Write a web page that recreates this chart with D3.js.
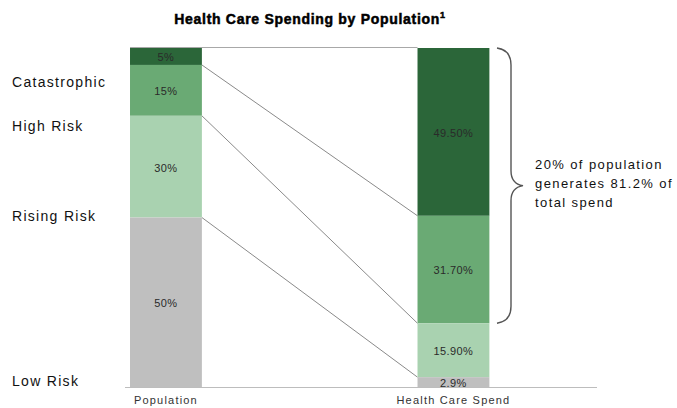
<!DOCTYPE html>
<html><head><meta charset="utf-8">
<script src="https://cdn.jsdelivr.net/npm/d3@7"></script>
<style>
html,body{margin:0;padding:0;background:#fff;}
svg{display:block;font-family:"Liberation Sans",Arial,sans-serif;}
</style></head>
<body>
<svg id="chart" width="677" height="408"></svg>
<script>
const categories = ["Catastrophic", "High Risk", "Rising Risk", "Low Risk"];
const barNames = ["Population", "Health Care Spend"];
const populationPct = [5, 15, 30, 50];
const spendPct = [49.5, 31.7, 15.9, 2.9];
const populationLabels = ["5%", "15%", "30%", "50%"];
const spendLabels = ["49.50%", "31.70%", "15.90%", "2.9%"];
const categoryLabelPos = [90, 77, 50.3, 1.8];
const braceText = ["20% of population", "generates 81.2% of", "total spend"];
const titleText = "Health Care Spending by Population";

const colors = ["#2b6639", "#6aaa74", "#a9d2b0", "#bfbfbf"];

const svg = d3.select("#chart");
const y = d3.scaleLinear().domain([0, 100]).range([387, 48]);
const x = d3.scaleBand().domain(barNames).range([22.2, 597.2]).paddingInner(0.75).paddingOuter(0.375);

function stackIt(vals) {
  let top = 100;
  return vals.map((v, i) => { const s = {i, v, y0: top, y1: top - v}; top -= v; return s; });
}
const popStack = stackIt(populationPct);
const spendStack = stackIt(spendPct);

// title
const title = svg.append("text").attr("x", 310).attr("y", 24).attr("text-anchor", "middle")
  .attr("font-size", 14).attr("font-weight", "bold").attr("fill", "#000")
  .attr("stroke", "#000").attr("stroke-width", 0.5).attr("letter-spacing", 0.7);
title.append("tspan").text(titleText);
title.append("tspan").attr("font-size", 9).attr("dy", -6).text("1");

// axis line
svg.append("line").attr("x1", 125).attr("x2", 597).attr("y1", y(0) + 0.5).attr("y2", y(0) + 0.5)
  .attr("stroke", "#bdbdbd").attr("stroke-width", 1);

// top line
svg.append("line").attr("x1", x("Population")).attr("x2", x("Health Care Spend"))
  .attr("y1", y(100) - 0.5).attr("y2", y(100) - 0.5)
  .attr("stroke", "#a8a8a8").attr("stroke-width", 1.2);

// connectors
const xL = x("Population") + x.bandwidth();
const xR = x("Health Care Spend");
for (let k = 0; k < 3; k++) {
  svg.append("line").attr("x1", xL).attr("y1", y(popStack[k].y1))
    .attr("x2", xR).attr("y2", y(spendStack[k].y1))
    .attr("stroke", "#8a8a8a").attr("stroke-width", 1);
}

function drawBar(name, stack, labels) {
  const g = svg.append("g");
  g.selectAll("rect").data(stack).join("rect")
    .attr("x", x(name)).attr("width", x.bandwidth())
    .attr("y", d => y(d.y0)).attr("height", d => y(d.y1) - y(d.y0))
    .attr("fill", d => colors[d.i]);
  g.selectAll("text").data(stack).join("text")
    .attr("x", x(name) + x.bandwidth() / 2)
    .attr("y", d => (y(d.y0) + y(d.y1)) / 2 + 1)
    .attr("dy", "0.35em").attr("text-anchor", "middle")
    .attr("font-size", 11).attr("fill", "#2a2a2a").attr("letter-spacing", 0.4)
    .text(d => labels[d.i]);
}
drawBar("Population", popStack, populationLabels);
drawBar("Health Care Spend", spendStack, spendLabels);

// category labels
svg.selectAll(".cat").data(categories).join("text").attr("class", "cat")
  .attr("x", 12).attr("y", (d, i) => y(categoryLabelPos[i])).attr("dy", "0.35em")
  .attr("font-size", 14).attr("fill", "#111").attr("letter-spacing", 1.3)
  .text(d => d);

// bottom labels
svg.selectAll(".bl").data(barNames).join("text").attr("class", "bl")
  .attr("x", d => x(d) + x.bandwidth() / 2).attr("y", 404).attr("text-anchor", "middle")
  .attr("font-size", 11).attr("fill", "#333").attr("letter-spacing", 1.2)
  .text(d => d);

// brace
const bTop = y(100), bBot = y(100 - spendPct[0] - spendPct[1]);
const bMid = (bTop + bBot) / 2;
const p = d3.path();
p.moveTo(497, bTop);
p.quadraticCurveTo(511, bTop + 2, 511, bTop + 17);
p.lineTo(511, bMid - 15);
p.quadraticCurveTo(511, bMid - 2, 523, bMid);
p.quadraticCurveTo(511, bMid + 2, 511, bMid + 15);
p.lineTo(511, bBot - 17);
p.quadraticCurveTo(511, bBot - 2, 497, bBot);
svg.append("path").attr("d", p.toString()).attr("fill", "none")
  .attr("stroke", "#555").attr("stroke-width", 1.4);

svg.selectAll(".bt").data(braceText).join("text").attr("class", "bt")
  .attr("x", 535).attr("y", (d, i) => bMid - 21 + i * 19).attr("dy", "0.35em")
  .attr("font-size", 13).attr("fill", "#111").attr("letter-spacing", 1.4)
  .text(d => d);
</script>
</body></html>
